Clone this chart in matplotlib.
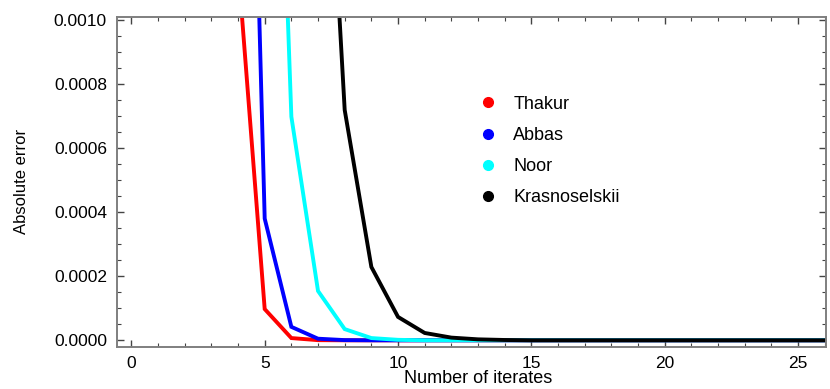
import matplotlib.pyplot as plt
from matplotlib.lines import Line2D
from matplotlib.ticker import MultipleLocator, FormatStrFormatter

# iterates 1..26; early values lie far above the visible window
iterates = list(range(1, 27))
thakur = [0.6, 0.09, 0.013, 0.00117, 0.0000975, 0.000007, 0.0000005] + [0.0] * 19
abbas = [0.9, 0.2, 0.035, 0.00348, 0.00038, 0.000042, 0.000005, 0.0000006] + [0.0] * 18
noor = [1.4, 0.4, 0.08, 0.018, 0.00302, 0.000698, 0.000154, 0.000035,
        0.000007, 0.0000015] + [0.0] * 16
krasnoselskii = [2.0, 0.8, 0.2, 0.05, 0.013, 0.0075, 0.0022, 0.000719, 0.000229,
                 0.000073, 0.0000229, 0.0000084, 0.000003, 0.000001] + [0.0] * 12

series = [("Thakur", thakur, "#ff0000"),
          ("Abbas", abbas, "#0000ff"),
          ("Noor", noor, "#00ffff"),
          ("Krasnoselskii", krasnoselskii, "#000000")]

plt.rcParams['font.family'] = ['Liberation Sans', 'DejaVu Sans']

fig = plt.figure(figsize=(8.3, 3.89), dpi=100)
ax = fig.add_axes([0.1406, 0.1087, 0.8546, 0.8483])

for name, vals, col in series:
    ax.plot(iterates, vals, color=col, lw=2.8, solid_joinstyle='miter')

ax.set_xlim(-0.55, 26.05)
ax.set_ylim(-0.00002, 0.00101)

ax.xaxis.set_major_locator(MultipleLocator(5))
ax.xaxis.set_minor_locator(MultipleLocator(1))
ax.yaxis.set_major_locator(MultipleLocator(0.0002))
ax.yaxis.set_minor_locator(MultipleLocator(0.00005))
ax.yaxis.set_major_formatter(FormatStrFormatter('%.4f'))

for s in ax.spines.values():
    s.set_color('#7f7f7f')
    s.set_linewidth(1.4)
ax.tick_params(which='both', direction='in', top=True, right=True, color='#444444')
ax.tick_params(which='major', length=5, width=1, labelsize=12.5, pad=7)
ax.tick_params(which='minor', length=3, width=0.8)

narrow = ['Liberation Sans Narrow', 'Liberation Sans', 'DejaVu Sans']
ax.set_ylabel('Absolute error', fontsize=12, family=narrow, va='center')
ax.yaxis.set_label_coords(-0.134, 0.5)
ax.set_xlabel('Number of iterates', fontsize=13, va='center')
ax.xaxis.set_label_coords(0.509, -0.097)

handles = [Line2D([], [], ls='none', marker='o', ms=7, color=col) for _, _, col in series]
ax.legend(handles, [n for n, _, _ in series], loc='upper left',
          bbox_to_anchor=(0.488, 0.81), frameon=False, fontsize=13,
          handlelength=1.0, handletextpad=0.9, labelspacing=0.79)

fig.savefig('out.png', dpi=100)
